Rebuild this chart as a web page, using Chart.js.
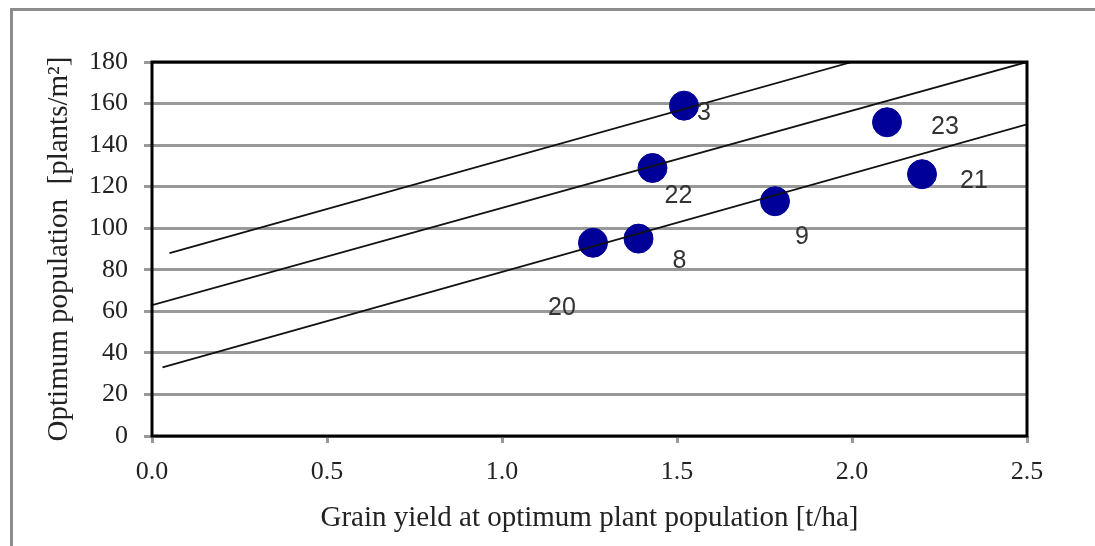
<!DOCTYPE html>
<html>
<head>
<meta charset="utf-8">
<script src="https://cdn.jsdelivr.net/npm/chart.js@4.4.0/dist/chart.umd.min.js"></script>
<style>
    html, body { margin: 0; padding: 0; background: #fff; }
    #wrap { position: relative; width: 1095px; height: 546px; }
</style>
</head>
<body>
<div id="wrap"><canvas id="yieldChart" width="1095" height="546"></canvas></div>
<script>
// site numbers and their (grain yield, optimum population)
const siteLabels = ["3", "22", "23", "21", "9", "8", "20"];
const yieldValues = [1.52, 1.43, 2.10, 2.20, 1.78, 1.39, 1.26];
const populationValues = [159, 129, 151, 126, 113, 95, 93];

// where each site number sits relative to its dot (px)
const labelOffsets = [[20, 7], [26, 28], [58, 5], [52, 7], [27, 36], [41, 22], [-31, 65]];

// three reference lines, [x start, x end] and [y start, y end]
const upperLineX = [0.05, 2.0];
const upperLineY = [88, 180];
const middleLineX = [0.0, 2.5];
const middleLineY = [63, 180];
const lowerLineX = [0.03, 2.5];
const lowerLineY = [33, 150];

const xTicks = [0, 0.5, 1.0, 1.5, 2.0, 2.5];
const yTicks = [0, 20, 40, 60, 80, 100, 120, 140, 160, 180];

function toPoints(xs, ys) {
    return xs.map((x, i) => ({ x: x, y: ys[i] }));
}

function refLine(xs, ys) {
    return {
        type: 'line',
        data: toPoints(xs, ys),
        borderColor: '#111',
        borderWidth: 1.8,
        pointRadius: 0,
        fill: false
    };
}

const serif = "'Liberation Serif', 'DejaVu Serif', serif";

const frame = {
    id: 'frame',
    beforeDraw(chart) {
        const ctx = chart.ctx;
        ctx.save();
        ctx.fillStyle = '#8c8c8c';
        ctx.fillRect(10, 8, 1085, 3);
        ctx.fillRect(10, 8, 3, 538);
        ctx.restore();
    },
    afterDraw(chart) {
        const a = chart.chartArea;
        const ctx = chart.ctx;
        ctx.save();
        ctx.strokeStyle = '#000';
        ctx.lineWidth = 3;
        ctx.strokeRect(a.left, a.top, a.right - a.left, a.bottom - a.top);
        ctx.restore();
    }
};

const siteNumbers = {
    id: 'siteNumbers',
    afterDatasetsDraw(chart) {
        const ctx = chart.ctx;
        const xs = chart.scales.x;
        const ys = chart.scales.y;
        ctx.save();
        ctx.font = "25px 'Liberation Sans', Arial, sans-serif";
        ctx.fillStyle = '#333';
        ctx.textAlign = 'center';
        ctx.textBaseline = 'middle';
        siteLabels.forEach((lbl, i) => {
            const px = xs.getPixelForValue(yieldValues[i]) + labelOffsets[i][0];
            const py = ys.getPixelForValue(populationValues[i]) + labelOffsets[i][1];
            ctx.fillText(lbl, px, py);
        });
        ctx.restore();
    }
};

new Chart(document.getElementById('yieldChart'), {
    type: 'scatter',
    data: {
        datasets: [
            refLine(upperLineX, upperLineY),
            refLine(middleLineX, middleLineY),
            refLine(lowerLineX, lowerLineY),
            {
                data: toPoints(yieldValues, populationValues),
                backgroundColor: '#000099',
                borderColor: '#000099',
                pointRadius: 14.5,
                pointHoverRadius: 14.5
            }
        ]
    },
    options: {
        responsive: false,
        animation: false,
        events: [],
        layout: { padding: { left: 0, top: 62, right: 68, bottom: 0 } },
        plugins: { legend: { display: false }, tooltip: { enabled: false } },
        scales: {
            x: {
                type: 'linear',
                min: 0,
                max: 2.5,
                afterBuildTicks(scale) { scale.ticks = xTicks.map(v => ({ value: v })); },
                afterFit(scale) { scale.height = 110; },
                ticks: {
                    color: '#222',
                    font: { family: serif, size: 26 },
                    padding: 14,
                    callback: v => v.toFixed(1)
                },
                grid: { drawOnChartArea: false, drawTicks: true, tickLength: 7, color: '#999', lineWidth: 3 },
                border: { display: false },
                title: {
                    display: true,
                    text: 'Grain yield at optimum plant population [t/ha]',
                    color: '#222',
                    font: { family: serif, size: 29 },
                    padding: { top: 0, bottom: 10 }
                }
            },
            y: {
                min: 0,
                max: 180,
                afterBuildTicks(scale) { scale.ticks = yTicks.map(v => ({ value: v })); },
                afterFit(scale) { scale.width = 152; },
                ticks: {
                    color: '#222',
                    font: { family: serif, size: 26 },
                    padding: 16
                },
                grid: { color: '#999', lineWidth: 3, tickLength: 8 },
                border: { display: false },
                title: {
                    display: true,
                    text: 'Optimum population  [plants/m²]',
                    color: '#222',
                    font: { family: serif, size: 29 },
                    padding: { top: 42, bottom: 0 }
                }
            }
        }
    },
    plugins: [frame, siteNumbers]
});
</script>
</body>
</html>
